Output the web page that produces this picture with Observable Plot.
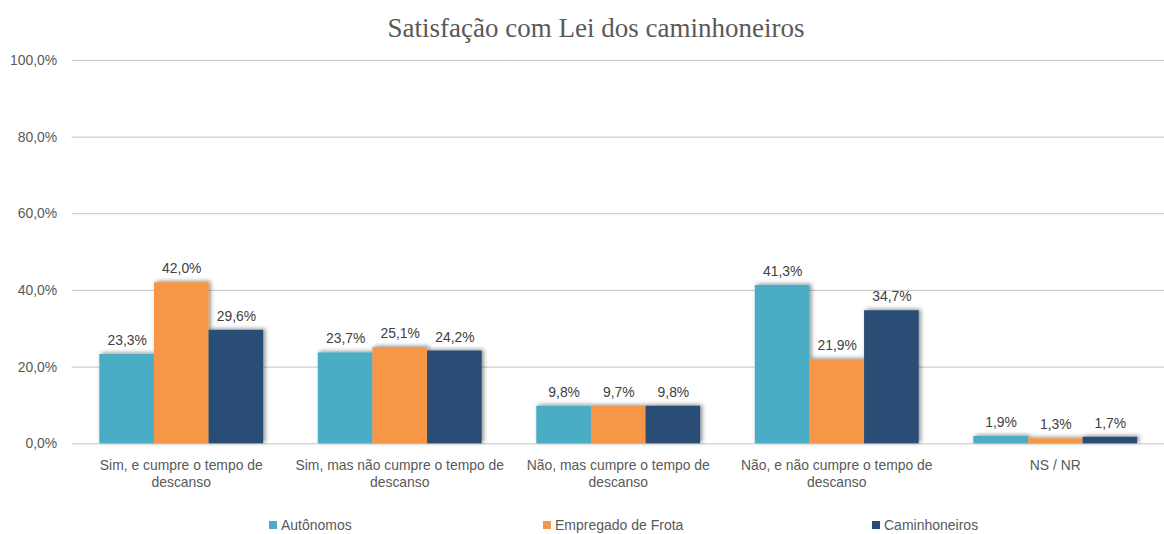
<!DOCTYPE html>
<html>
<head>
<meta charset="utf-8">
<script src="https://cdn.jsdelivr.net/npm/d3@7"></script>
<script src="https://cdn.jsdelivr.net/npm/@observablehq/plot@0.6"></script>
<style>
  html, body { margin: 0; padding: 0; background: #fff; }
  #wrap { width: 1164px; height: 534px; position: relative; overflow: hidden; }
  #title { height: 48px; text-align: center; padding-left: 28px; font-family: "Liberation Serif", serif; font-size: 27px; color: #595959; line-height: 56px; white-space: nowrap; }
  #chart { width: 1164px; overflow: hidden; }
  #legend { position: absolute; top: 517px; left: 0; width: 1164px; height: 20px; font-family: "Liberation Sans", sans-serif; font-size: 14px; color: #595959; }
  .li { position: absolute; top: 0; white-space: nowrap; }
  .sw { display: inline-block; width: 8px; height: 8px; margin-right: 4px; vertical-align: 1px; }
</style>
</head>
<body>
<div id="wrap">
  <div id="title">Satisfação com Lei dos caminhoneiros</div>
  <div id="chart"></div>
  <div id="legend"></div>
</div>
<script>
const categories = [
  "Sim, e cumpre o tempo de descanso",
  "Sim, mas não cumpre o tempo de descanso",
  "Não, mas cumpre o tempo de descanso",
  "Não, e não cumpre o tempo de descanso",
  "NS / NR"
];
const categoryLabels = [
  "Sim, e cumpre o tempo de\ndescanso",
  "Sim, mas não cumpre o tempo de\ndescanso",
  "Não, mas cumpre o tempo de\ndescanso",
  "Não, e não cumpre o tempo de\ndescanso",
  "NS / NR"
];
const series = ["Autônomos", "Empregado de Frota", "Caminhoneiros"];
const colors = ["#4BACC6", "#F79646", "#2C4D75"];
const autonomos = [23.3, 23.7, 9.8, 41.3, 1.9];
const empregado = [42.0, 25.1, 9.7, 21.9, 1.3];
const caminhoneiros = [29.6, 24.2, 9.8, 34.7, 1.7];
const yTicks = [0, 20, 40, 60, 80, 100];

const seriesValues = [autonomos, empregado, caminhoneiros];
const data = [];
categories.forEach((c, i) => {
  series.forEach((s, j) => data.push({category: c, series: s, value: seriesValues[j][i]}));
});
const fmt = v => v.toFixed(1).replace(".", ",") + "%";
const labelMap = new Map(categories.map((c, i) => [c, categoryLabels[i]]));

const chart = Plot.plot({
  width: 1172,
  height: 462,
  marginLeft: 72,
  marginRight: 0,
  marginTop: 12,
  marginBottom: 64,
  style: {fontFamily: "Liberation Sans, sans-serif", fontSize: "14px", color: "#595959", background: "transparent", overflow: "visible"},
  fx: {domain: categories, padding: 0, label: null},
  x: {domain: series, paddingInner: 0, paddingOuter: 0.5, axis: null},
  y: {domain: [0, 100], ticks: yTicks, label: null},
  color: {domain: series, range: colors},
  marks: [
    Plot.ruleY(yTicks, {stroke: "#C4C4C4", strokeWidth: 1}),
    Plot.axisY({ticks: yTicks, tickSize: 0, tickPadding: 15, tickFormat: fmt, fill: "#595959", fontSize: 14}),
    Plot.axisFx({anchor: "bottom", tickSize: 0, tickPadding: 14, tickFormat: d => labelMap.get(d), fill: "#595959", fontSize: 14, lineHeight: 1.25, textAnchor: "middle", label: null}),
    Plot.barY(data, {fx: "category", x: "series", y: "value", fill: "series", className: "bars"}),
    Plot.text(data, {fx: "category", x: "series", y: "value", text: d => fmt(d.value), dy: -14, fill: "#404040", fontSize: 14})
  ]
});
document.getElementById("chart").appendChild(chart);

// drop shadow on bars
const svg = d3.select(chart);
const defs = svg.insert("defs", ":first-child");
const f = defs.append("filter").attr("id", "shadow").attr("x", "-20%").attr("y", "-50%").attr("width", "140%").attr("height", "200%");
f.append("feDropShadow").attr("dx", 2).attr("dy", -1).attr("stdDeviation", 2).attr("flood-color", "#000").attr("flood-opacity", 0.45);
svg.selectAll("g.bars").attr("filter", "url(#shadow)");

// legend
const legendX = [269, 543, 872];
const legend = d3.select("#legend");
series.forEach((s, i) => {
  const item = legend.append("div").attr("class", "li").style("left", legendX[i] + "px");
  item.append("span").attr("class", "sw").style("background", colors[i]);
  item.append("span").text(s);
});
</script>
</body>
</html>
